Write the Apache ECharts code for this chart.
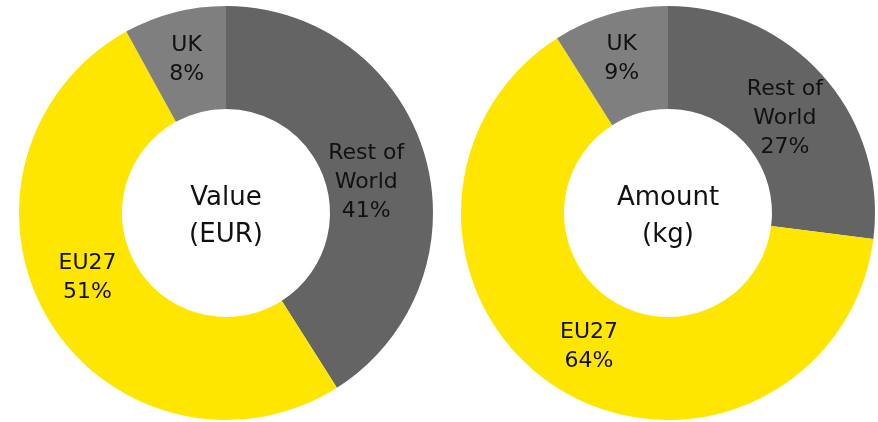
<!DOCTYPE html>
<html>
<head>
<meta charset="UTF-8">
<title></title>
<script src="https://cdn.jsdelivr.net/npm/echarts@6/dist/echarts.min.js"></script>
<style>
  html, body { margin: 0; padding: 0; background: #fff; }
</style>
</head>
<body>
<div style="width:878px;height:422px;" id="main"></div>
<script>
var regions = ['Rest of\nWorld', 'EU27', 'UK'];
var colors = ['#646464', '#FFE600', '#7F7F7F'];
var valueShare = [41, 51, 8];
var amountShare = [27, 64, 9];
var centerTitles = ['Value\n(EUR)', 'Amount\n(kg)'];

// small nudges so the labels sit where the original puts them
var valueLabelOffsets = [[-12, 14], [-2, -16], [0, 0]];
var amountLabelOffsets = [[-2, 10], [6, 0], [-2, -2]];

function makeData(vals, offsets) {
  return regions.map(function (name, i) {
    return {
      name: name,
      value: vals[i],
      itemStyle: { color: colors[i] },
      label: { offset: offsets[i] }
    };
  });
}

function pie(center, vals, offsets) {
  return {
    type: 'pie',
    center: center,
    radius: [104, 207],
    startAngle: 90,
    clockwise: true,
    silent: true,
    animation: false,
    itemStyle: { borderWidth: 0 },
    label: {
      show: true,
      position: 'inside',
      formatter: function (p) { return p.name + '\n' + p.value + '%'; },
      color: '#111',
      fontFamily: 'DejaVu Sans',
      fontSize: 22,
      lineHeight: 29
    },
    labelLine: { show: false },
    data: makeData(vals, offsets)
  };
}

var chart = echarts.init(document.getElementById('main'));
chart.setOption({
  series: [
    pie([226, 213], valueShare, valueLabelOffsets),
    pie([668, 213], amountShare, amountLabelOffsets)
  ],
  graphic: [
    { type: 'text', x: 226, y: 217, style: { text: centerTitles[0], align: 'center', verticalAlign: 'middle', font: '26px "DejaVu Sans"', lineHeight: 37, fill: '#111' } },
    { type: 'text', x: 668, y: 217, style: { text: centerTitles[1], align: 'center', verticalAlign: 'middle', font: '26px "DejaVu Sans"', lineHeight: 37, fill: '#111' } }
  ]
});
</script>
</body>
</html>
